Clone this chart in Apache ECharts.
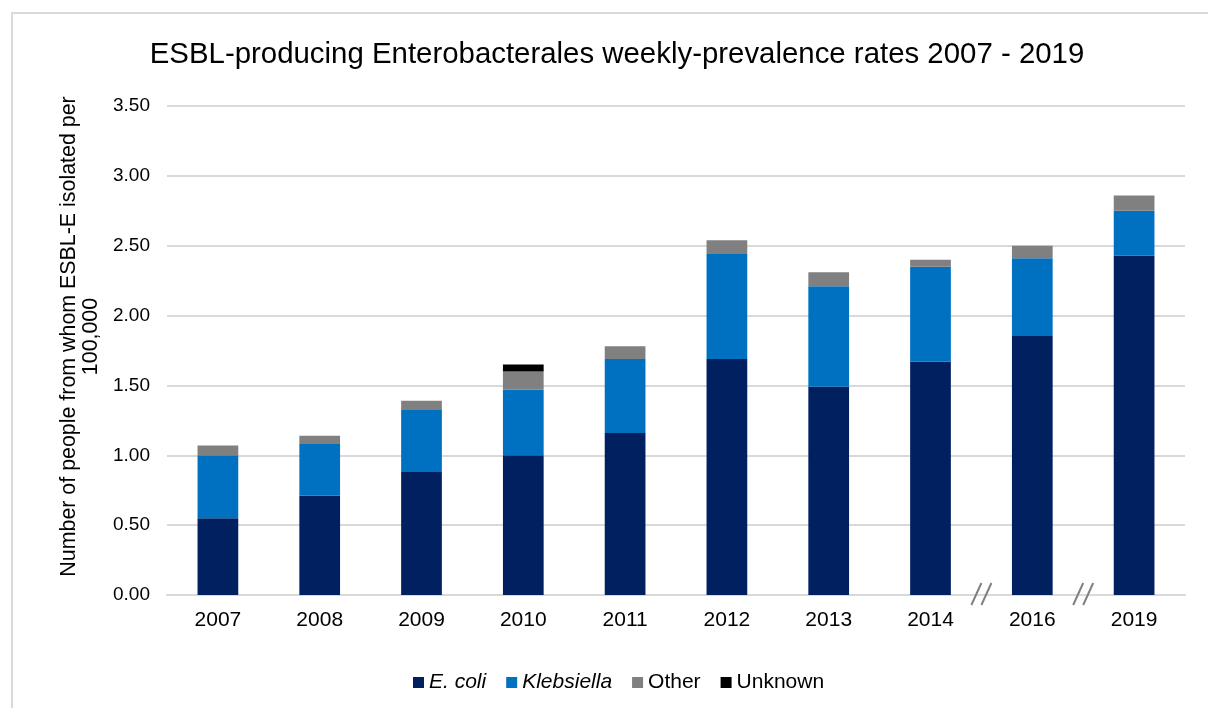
<!DOCTYPE html>
<html>
<head>
<meta charset="utf-8">
<script src="https://cdn.jsdelivr.net/npm/echarts@6/dist/echarts.min.js"></script>
<style>
  html, body { margin: 0; padding: 0; background: #ffffff; }
  #chart { width: 1208px; height: 708px; }
</style>
</head>
<body>
<div id="chart"></div>
<script>
// Years shown (2015, 2017 and 2018 are not surveyed; breaks mark the gaps)
const years = ['2007', '2008', '2009', '2010', '2011', '2012', '2013', '2014', '2016', '2019'];

// Weekly-prevalence rates per 100,000 by organism
const eColi      = [0.55, 0.71, 0.88, 1.00, 1.16, 1.69, 1.49, 1.67, 1.86, 2.43];
const klebsiella = [0.45, 0.37, 0.45, 0.47, 0.53, 0.75, 0.72, 0.68, 0.55, 0.32];
const other      = [0.07, 0.06, 0.06, 0.13, 0.09, 0.10, 0.10, 0.05, 0.09, 0.11];
const unknown    = [0, 0, 0, 0.05, 0, 0, 0, 0, 0, 0];

const yTicks = [0, 0.5, 1, 1.5, 2, 2.5, 3, 3.5];

// Category pairs that have a gap in years between them
const breaksBetween = [['2014', '2016'], ['2016', '2019']];

const FONT = '"Liberation Sans", Arial, sans-serif';
const colors = ['#002060', '#0070C0', '#808080', '#000000'];

const chart = echarts.init(document.getElementById('chart'), null, { renderer: 'canvas' });

function seriesOf(name, data, color) {
  return {
    name: name,
    type: 'bar',
    stack: 'total',
    data: data,
    barCategoryGap: '60%',
    itemStyle: { color: color },
    emphasis: { disabled: true }
  };
}

const option = {
  animation: false,
  backgroundColor: '#ffffff',
  textStyle: { fontFamily: FONT },
  title: {
    text: 'ESBL-producing Enterobacterales weekly-prevalence rates 2007 - 2019',
    left: 612,
    textAlign: 'center',
    top: 35,
    textStyle: { fontFamily: FONT, fontSize: 29.4, fontWeight: 'normal', color: '#000000' }
  },
  legend: {
    bottom: 10,
    left: 408,
    itemWidth: 11,
    itemHeight: 11,
    itemGap: 20,
    icon: 'rect',
    data: ['E. coli', 'Klebsiella', 'Other', 'Unknown'],
    formatter: function (name) {
      return (name === 'E. coli' || name === 'Klebsiella') ? '{i|' + name + '}' : '{n|' + name + '}';
    },
    textStyle: {
      fontFamily: FONT,
      fontSize: 21,
      color: '#000000',
      rich: {
        i: { fontFamily: FONT, fontSize: 21, fontStyle: 'italic', color: '#000000' },
        n: { fontFamily: FONT, fontSize: 21, color: '#000000' }
      }
    }
  },
  grid: { left: 167, right: 23, top: 106, bottom: 113, containLabel: false },
  xAxis: {
    type: 'category',
    data: years,
    axisLine: { show: true, lineStyle: { color: '#d9d9d9', width: 2 } },
    axisTick: { show: false },
    axisLabel: { fontFamily: FONT, fontSize: 21, color: '#000000', margin: 15 }
  },
  yAxis: {
    type: 'value',
    min: yTicks[0],
    max: yTicks[yTicks.length - 1],
    interval: 0.5,
    name: 'Number of people from whom ESBL-E isolated per\n100,000',
    nameLocation: 'middle',
    nameRotate: 90,
    nameGap: 62,
    nameTextStyle: {
      fontFamily: FONT, fontSize: 21.4, color: '#000000', lineHeight: 22, align: 'center',
      padding: [0, 0, 0, 28]
    },
    axisLine: { show: false },
    axisTick: { show: false },
    splitLine: { lineStyle: { color: '#d9d9d9', width: 2 } },
    axisLabel: {
      fontFamily: FONT, fontSize: 19, color: '#000000', margin: 17,
      formatter: function (v) { return v.toFixed(2); }
    }
  },
  series: [
    seriesOf('E. coli', eColi, colors[0]),
    seriesOf('Klebsiella', klebsiella, colors[1]),
    seriesOf('Other', other, colors[2]),
    seriesOf('Unknown', unknown, colors[3])
  ]
};

chart.setOption(option);

// Frame around the chart and the "//" axis-break marks
const graphics = [{
  type: 'rect',
  shape: { x: 12, y: 13, width: 1220, height: 720 },
  style: { fill: null, stroke: '#d9d9d9', lineWidth: 2 },
  silent: true
}];

const y0 = chart.convertToPixel({ yAxisIndex: 0 }, 0);
breaksBetween.forEach(function (pair) {
  const xa = chart.convertToPixel({ xAxisIndex: 0 }, pair[0]);
  const xb = chart.convertToPixel({ xAxisIndex: 0 }, pair[1]);
  const xm = (xa + xb) / 2;
  [-5, 5].forEach(function (dx) {
    graphics.push({
      type: 'line',
      shape: { x1: xm + dx - 5, y1: y0 + 10, x2: xm + dx + 5, y2: y0 - 12 },
      style: { stroke: '#808080', lineWidth: 2 },
      silent: true,
      z: 100
    });
  });
});

chart.setOption({ graphic: graphics });
</script>
</body>
</html>
